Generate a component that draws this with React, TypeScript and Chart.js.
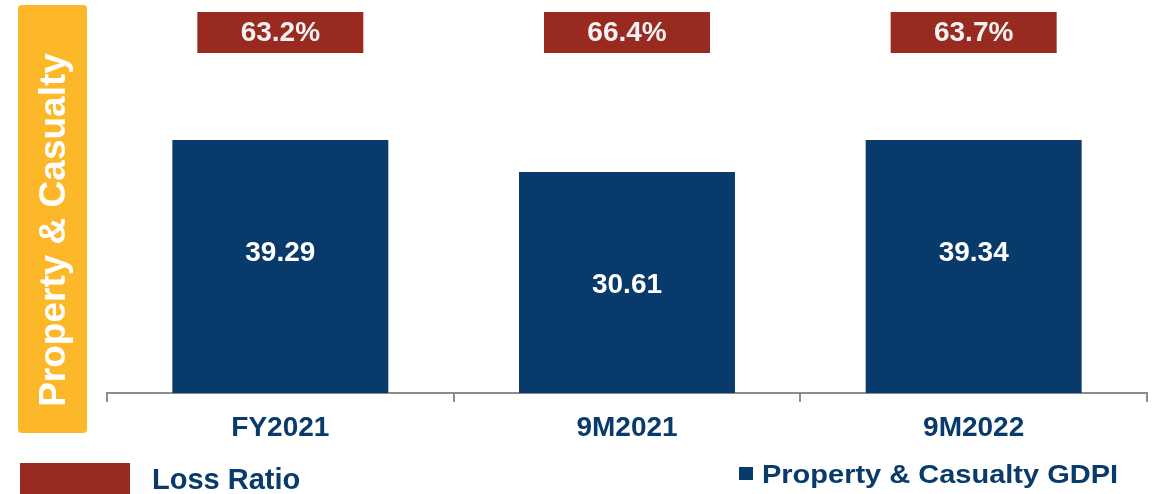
import React, { useEffect, useRef } from "react";
import { Chart, registerables } from "chart.js";

Chart.register(...registerables);

const categories = ["FY2021", "9M2021", "9M2022"];
const gdpiValues = [39.29, 30.61, 39.34];
const lossRatios = [63.2, 66.4, 63.7];
const sideTitle = "Property & Casualty";
const legendLoss = "Loss Ratio";
const legendGdpi = "Property & Casualty GDPI";

const Y_MIN = -29.3;
const Y_MAX = 61;

const NAVY = "#083a6b";
const RED = "#982a1f";
const ORANGE = "#fdb82a";
const FONT = '"Liberation Sans", Arial, sans-serif';

const decorPlugin = {
  id: "decor",
  beforeDraw(chart: any) {
    const ctx = chart.ctx;
    ctx.save();
    ctx.fillStyle = ORANGE;
    ctx.beginPath();
    (ctx as any).roundRect(18, 5, 69, 428, 4);
    ctx.fill();
    ctx.translate(65, 230);
    ctx.rotate(-Math.PI / 2);
    ctx.fillStyle = "#ffffff";
    ctx.font = `bold 37px ${FONT}`;
    ctx.textAlign = "center";
    ctx.textBaseline = "alphabetic";
    ctx.fillText(sideTitle, 0, 0);
    ctx.restore();
  },
  afterDatasetsDraw(chart: any) {
    const ctx = chart.ctx;
    const meta = chart.getDatasetMeta(0);
    ctx.save();
    meta.data.forEach((bar: any, i: number) => {
      // value label
      ctx.fillStyle = "#ffffff";
      ctx.font = `bold 28px ${FONT}`;
      ctx.textAlign = "center";
      ctx.textBaseline = "middle";
      ctx.fillText(gdpiValues[i].toFixed(2), bar.x, bar.y + 113);
      // loss ratio box
      const w = 166;
      const top = 12;
      const h = 41;
      ctx.fillStyle = RED;
      ctx.fillRect(bar.x - w / 2, top, w, h);
      ctx.fillStyle = "#f2f2f2";
      ctx.fillText(lossRatios[i].toFixed(1) + "%", bar.x, top + h / 2 + 1);
    });
    ctx.restore();
  },
  afterDraw(chart: any) {
    const ctx = chart.ctx;
    ctx.save();
    ctx.fillStyle = RED;
    ctx.fillRect(20, 463, 110, 40);
    ctx.fillStyle = NAVY;
    ctx.font = `bold 29px ${FONT}`;
    ctx.textAlign = "left";
    ctx.textBaseline = "alphabetic";
    ctx.fillText(legendLoss, 152, 489);
    ctx.fillRect(739, 467, 14, 13);
    ctx.translate(762, 483);
    ctx.scale(1.115, 1);
    ctx.font = `bold 26px ${FONT}`;
    ctx.fillText(legendGdpi, 0, 0);
    ctx.restore();
  },
};

export default function App() {
  const ref = useRef<HTMLCanvasElement>(null);
  useEffect(() => {
    if (!ref.current) return;
    const chart = new Chart(ref.current, {
      type: "bar",
      data: {
        labels: categories,
        datasets: [
          {
            label: legendGdpi,
            data: gdpiValues,
            backgroundColor: NAVY,
            base: Y_MIN,
            categoryPercentage: 1,
            barPercentage: 0.623,
          } as any,
        ],
      },
      options: {
        animation: false,
        responsive: false,
        devicePixelRatio: 1,
        layout: { padding: { left: 107, right: 13, top: 60, bottom: 0 } },
        plugins: {
          legend: { display: false },
          tooltip: { enabled: false },
        },
        scales: {
          x: {
            afterFit: (scale: any) => {
              scale.height = 101;
            },
            grid: {
              display: true,
              drawOnChartArea: false,
              drawTicks: true,
              tickLength: 9,
              color: "#8c8c8c",
              lineWidth: 2,
              offset: true,
            },
            border: { display: true, color: "#8c8c8c", width: 2 },
            ticks: {
              color: NAVY,
              font: { family: FONT, size: 28, weight: "bold" },
              padding: 9,
            },
          },
          y: {
            display: false,
            min: Y_MIN,
            max: Y_MAX,
          },
        },
      },
      plugins: [decorPlugin],
    });
    return () => chart.destroy();
  }, []);
  return (
    <div style={{ position: "absolute", left: 0, top: 0, width: 1160, height: 494, background: "#fff" }}>
      <canvas ref={ref} width={1160} height={494} style={{ display: "block" }} />
    </div>
  );
}
